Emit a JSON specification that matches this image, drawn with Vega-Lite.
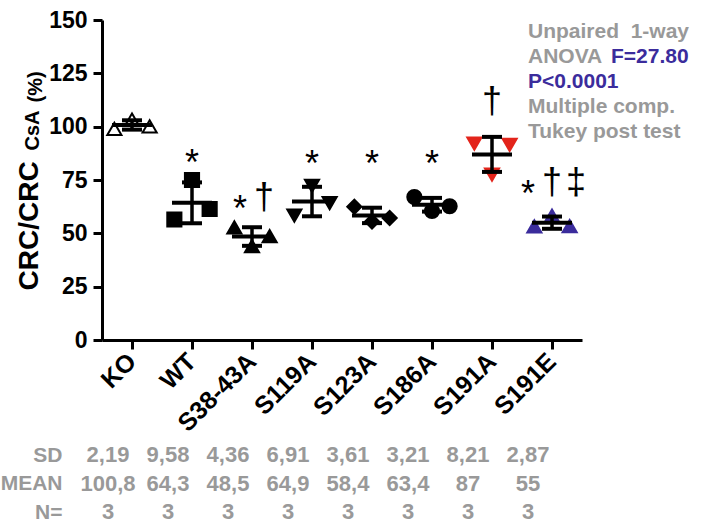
{
  "$schema": "https://vega.github.io/schema/vega-lite/v6.json",
  "width": 480,
  "height": 320,
  "autosize": {"type": "none"},
  "padding": {"left": 102, "top": 20, "right": 130, "bottom": 184},
  "background": "white",
  "config": {"view": {"stroke": null}, "font": "Liberation Sans"},
  "datasets": {
    "points": [
      {"group": "KO", "rep": 1, "value": 99.0},
      {"group": "KO", "rep": 2, "value": 103.3},
      {"group": "KO", "rep": 3, "value": 100.1},
      {"group": "WT", "rep": 1, "value": 56.5},
      {"group": "WT", "rep": 2, "value": 75.0},
      {"group": "WT", "rep": 3, "value": 61.4},
      {"group": "S38-43A", "rep": 1, "value": 52.8},
      {"group": "S38-43A", "rep": 2, "value": 44.0},
      {"group": "S38-43A", "rep": 3, "value": 48.7},
      {"group": "S119A", "rep": 1, "value": 58.3},
      {"group": "S119A", "rep": 2, "value": 72.2},
      {"group": "S119A", "rep": 3, "value": 64.2},
      {"group": "S123A", "rep": 1, "value": 62.5},
      {"group": "S123A", "rep": 2, "value": 55.5},
      {"group": "S123A", "rep": 3, "value": 57.2},
      {"group": "S186A", "rep": 1, "value": 67.0},
      {"group": "S186A", "rep": 2, "value": 60.5},
      {"group": "S186A", "rep": 3, "value": 62.7},
      {"group": "S191A", "rep": 1, "value": 92.0},
      {"group": "S191A", "rep": 2, "value": 77.5},
      {"group": "S191A", "rep": 3, "value": 91.5},
      {"group": "S191E", "rep": 1, "value": 53.3},
      {"group": "S191E", "rep": 2, "value": 58.3},
      {"group": "S191E", "rep": 3, "value": 53.4}
    ],
    "summary": [
      {"group": "KO", "mean": 100.8, "lo": 98.61, "hi": 102.99},
      {"group": "WT", "mean": 64.3, "lo": 54.72, "hi": 73.88},
      {"group": "S38-43A", "mean": 48.5, "lo": 44.14, "hi": 52.86},
      {"group": "S119A", "mean": 64.9, "lo": 57.99, "hi": 71.81},
      {"group": "S123A", "mean": 58.4, "lo": 54.79, "hi": 62.01},
      {"group": "S186A", "mean": 63.4, "lo": 60.19, "hi": 66.61},
      {"group": "S191A", "mean": 87.0, "lo": 78.79, "hi": 95.21},
      {"group": "S191E", "mean": 55.0, "lo": 52.13, "hi": 57.87}
    ],
    "sig": [
      {"group": "WT", "glyph": "*", "slot": "s3", "sy": 82.6},
      {"group": "S38-43A", "glyph": "*", "slot": "s2", "sy": 60.8},
      {"group": "S38-43A", "glyph": "†", "slot": "s4", "sy": 66.6},
      {"group": "S119A", "glyph": "*", "slot": "s3", "sy": 81.9},
      {"group": "S123A", "glyph": "*", "slot": "s3", "sy": 81.9},
      {"group": "S186A", "glyph": "*", "slot": "s3", "sy": 81.9},
      {"group": "S191A", "glyph": "†", "slot": "s3", "sy": 111.6},
      {"group": "S191E", "glyph": "*", "slot": "s1", "sy": 67.8},
      {"group": "S191E", "glyph": "†", "slot": "s3", "sy": 73.4},
      {"group": "S191E", "glyph": "‡", "slot": "s5", "sy": 73.4}
    ],
    "table": [
      {"group": "KO", "row": "SD", "text": "2,19"},
      {"group": "WT", "row": "SD", "text": "9,58"},
      {"group": "S38-43A", "row": "SD", "text": "4,36"},
      {"group": "S119A", "row": "SD", "text": "6,91"},
      {"group": "S123A", "row": "SD", "text": "3,61"},
      {"group": "S186A", "row": "SD", "text": "3,21"},
      {"group": "S191A", "row": "SD", "text": "8,21"},
      {"group": "S191E", "row": "SD", "text": "2,87"},
      {"group": "KO", "row": "MEAN", "text": "100,8"},
      {"group": "WT", "row": "MEAN", "text": "64,3"},
      {"group": "S38-43A", "row": "MEAN", "text": "48,5"},
      {"group": "S119A", "row": "MEAN", "text": "64,9"},
      {"group": "S123A", "row": "MEAN", "text": "58,4"},
      {"group": "S186A", "row": "MEAN", "text": "63,4"},
      {"group": "S191A", "row": "MEAN", "text": "87"},
      {"group": "S191E", "row": "MEAN", "text": "55"},
      {"group": "KO", "row": "N=", "text": "3"},
      {"group": "WT", "row": "N=", "text": "3"},
      {"group": "S38-43A", "row": "N=", "text": "3"},
      {"group": "S119A", "row": "N=", "text": "3"},
      {"group": "S123A", "row": "N=", "text": "3"},
      {"group": "S186A", "row": "N=", "text": "3"},
      {"group": "S191A", "row": "N=", "text": "3"},
      {"group": "S191E", "row": "N=", "text": "3"}
    ],
    "notes": [
      {"line": 1, "text": "Unpaired\u00a0 1-way", "tone": "grey"},
      {"line": 2, "text": "ANOVA", "tone": "grey"},
      {"line": 3, "text": "P<0.0001", "tone": "blue"},
      {"line": 4, "text": "Multiple comp.", "tone": "grey"},
      {"line": 5, "text": "Tukey post test", "tone": "grey"}
    ],
    "notesF": [
      {"line": 2, "text": "F=27.80", "tone": "blue"}
    ]
  },
  "layer": [
    {
      "resolve": {"scale": {"xOffset": "independent"}},
      "layer": [
        {
          "data": {"name": "points"},
          "mark": {"type": "point", "filled": true, "size": 200, "strokeWidth": 2, "opacity": 1},
          "encoding": {
            "x": {
              "field": "group", "type": "nominal", "title": null,
              "scale": {"type": "band", "domain": ["KO", "WT", "S38-43A", "S119A", "S123A", "S186A", "S191A", "S191E"], "paddingInner": 0, "paddingOuter": 0},
              "axis": {
                "domainColor": "black", "domainWidth": 3, "tickColor": "black", "tickWidth": 3, "tickSize": 9,
                "labelAngle": -45, "labelAlign": "right", "labelBaseline": "middle", "labelPadding": 8,
                "labelFont": "Liberation Sans", "labelFontSize": 25, "labelFontWeight": "bold", "labelColor": "black"
              }
            },
            "xOffset": {"field": "rep", "type": "nominal", "scale": {"paddingOuter": 0.7, "paddingInner": 0}},
            "y": {
              "field": "value", "type": "quantitative", "title": "CRC/CRC",
              "scale": {"domain": [0, 150], "nice": false},
              "axis": {
                "values": [0, 25, 50, 75, 100, 125, 150], "grid": false,
                "domainColor": "black", "domainWidth": 3, "tickColor": "black", "tickWidth": 3, "tickSize": 9,
                "labelPadding": 6, "labelFont": "Liberation Sans", "labelFontSize": 23, "labelFontWeight": "bold", "labelColor": "black",
                "titleFont": "Liberation Sans", "titleFontSize": 28, "titleFontWeight": "bold", "titleColor": "black",
                "titleAngle": 270, "titleAlign": "left", "titleBaseline": "alphabetic", "titleX": -65, "titleY": 270
              }
            },
            "shape": {"field": "group", "type": "nominal", "legend": null,
              "scale": {"domain": ["KO", "WT", "S38-43A", "S119A", "S123A", "S186A", "S191A", "S191E"],
                "range": ["triangle-up", "square", "triangle-up", "triangle-down", "diamond", "circle", "triangle-down", "triangle-up"]}},
            "fill": {"field": "group", "type": "nominal", "legend": null,
              "scale": {"domain": ["KO", "WT", "S38-43A", "S119A", "S123A", "S186A", "S191A", "S191E"],
                "range": ["white", "black", "black", "black", "black", "black", "#e3241b", "#3b2c9c"]}},
            "stroke": {"field": "group", "type": "nominal", "legend": null,
              "scale": {"domain": ["KO", "WT", "S38-43A", "S119A", "S123A", "S186A", "S191A", "S191E"],
                "range": ["black", "black", "black", "black", "black", "black", "#e3241b", "#3b2c9c"]}}
          }
        },
        {
          "data": {"name": "summary"},
          "mark": {"type": "rule", "color": "black", "strokeWidth": 3.5},
          "encoding": {
            "x": {"field": "group", "type": "nominal", "title": null},
            "y": {"field": "lo", "type": "quantitative", "title": "CRC/CRC"},
            "y2": {"field": "hi"}
          }
        },
        {
          "data": {"name": "summary"},
          "mark": {"type": "tick", "color": "black", "size": 40, "thickness": 4, "opacity": 1},
          "encoding": {
            "x": {"field": "group", "type": "nominal", "title": null},
            "y": {"field": "mean", "type": "quantitative", "title": "CRC/CRC"}
          }
        },
        {
          "data": {"name": "summary"},
          "mark": {"type": "tick", "color": "black", "size": 20, "thickness": 4, "opacity": 1},
          "encoding": {
            "x": {"field": "group", "type": "nominal", "title": null},
            "y": {"field": "lo", "type": "quantitative", "title": "CRC/CRC"}
          }
        },
        {
          "data": {"name": "summary"},
          "mark": {"type": "tick", "color": "black", "size": 20, "thickness": 4, "opacity": 1},
          "encoding": {
            "x": {"field": "group", "type": "nominal", "title": null},
            "y": {"field": "hi", "type": "quantitative", "title": "CRC/CRC"}
          }
        },
        {
          "data": {"name": "sig"},
          "mark": {"type": "text", "font": "Liberation Sans", "fontSize": 36, "color": "black", "baseline": "middle", "align": "center"},
          "encoding": {
            "x": {"field": "group", "type": "nominal", "title": null},
            "xOffset": {"field": "slot", "type": "nominal", "scale": {"domain": ["s1", "s2", "s3", "s4", "s5"], "paddingOuter": 0.5, "paddingInner": 0}},
            "y": {"field": "sy", "type": "quantitative", "title": "CRC/CRC"},
            "text": {"field": "glyph"}
          }
        }
      ]
    },
    {
      "data": {"name": "table"},
      "mark": {"type": "text", "font": "Liberation Sans", "fontSize": 22, "fontWeight": "bold", "color": "#999999", "dx": -24, "baseline": "middle"},
      "encoding": {
        "x": {"field": "group", "type": "nominal", "title": null},
        "y": {
          "field": "row", "type": "nominal", "sort": ["SD", "MEAN", "N="],
          "scale": {"type": "point", "range": [435, 492], "padding": 0},
          "axis": {
            "orient": "left", "domain": false, "ticks": false, "tickSize": 0, "grid": false, "labelPadding": 40,
            "labelFont": "Liberation Sans", "labelFontSize": 21, "labelFontWeight": "bold", "labelColor": "#999999",
            "title": "(%)", "titleFont": "Liberation Sans", "titleFontSize": 20, "titleFontWeight": "bold", "titleColor": "black",
            "titleAngle": 270, "titleAlign": "left", "titleBaseline": "alphabetic", "titleX": -61, "titleY": 82
          }
        },
        "text": {"field": "text"}
      }
    },
    {
      "layer": [
        {
          "data": {"name": "notes"},
          "mark": {"type": "text", "font": "Liberation Sans", "fontSize": 21, "fontWeight": "bold", "align": "left", "baseline": "alphabetic", "dx": -24},
          "encoding": {
            "x": {"datum": "S191E"},
            "y": {
              "field": "line", "type": "ordinal",
              "scale": {"type": "point", "range": [18, 118], "padding": 0},
              "axis": {
                "orient": "left", "domain": false, "ticks": false, "labels": false, "grid": false,
                "title": "CsA", "titleFont": "Liberation Sans", "titleFontSize": 20, "titleFontWeight": "bold", "titleColor": "black",
                "titleAngle": 270, "titleAlign": "left", "titleBaseline": "alphabetic", "titleX": -64, "titleY": 130
              }
            },
            "color": {"field": "tone", "type": "nominal", "legend": null, "scale": {"domain": ["grey", "blue"], "range": ["#999999", "#3b2c9c"]}},
            "text": {"field": "text"}
          }
        },
        {
          "data": {"name": "notesF"},
          "mark": {"type": "text", "font": "Liberation Sans", "fontSize": 21, "fontWeight": "bold", "align": "left", "baseline": "alphabetic", "dx": 59},
          "encoding": {
            "x": {"datum": "S191E"},
            "y": {"field": "line", "type": "ordinal", "title": "CsA"},
            "color": {"field": "tone", "type": "nominal", "legend": null},
            "text": {"field": "text"}
          }
        }
      ]
    }
  ],
  "resolve": {"scale": {"y": "independent", "color": "independent"}, "axis": {"y": "independent"}}
}
